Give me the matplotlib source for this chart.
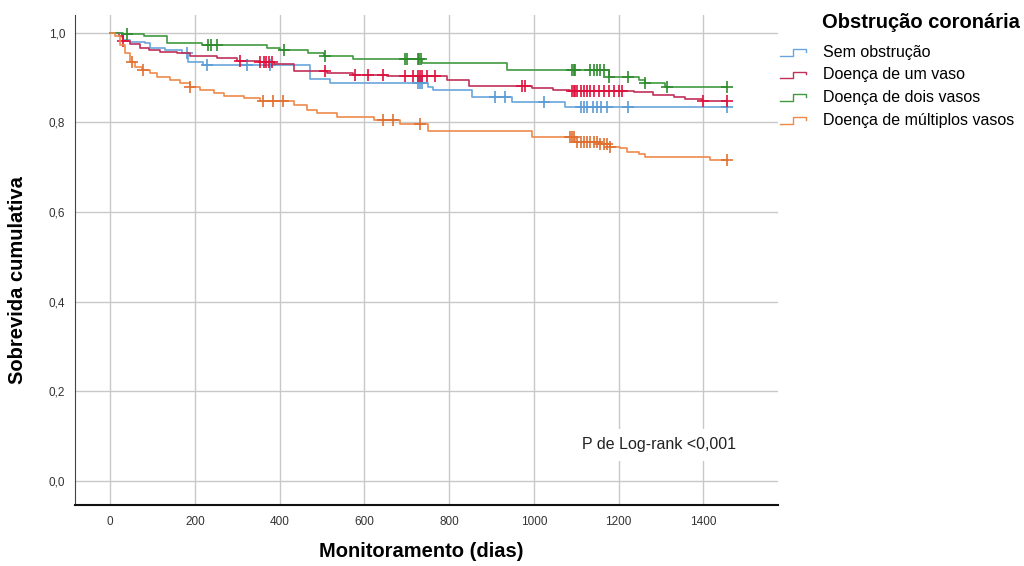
import numpy as np
import matplotlib
matplotlib.use("Agg")
import matplotlib.pyplot as plt
from matplotlib import font_manager
from matplotlib.lines import Line2D
from matplotlib.legend_handler import HandlerBase

# narrow font if present, like the SPSS original
names = {f.name for f in font_manager.fontManager.ttflist}
FONT = "Liberation Sans Narrow" if "Liberation Sans Narrow" in names else "Liberation Sans"
plt.rcParams["font.family"] = [FONT, "DejaVu Sans"]

groups = ["Sem obstrução", "Doença de um vaso", "Doença de dois vasos", "Doença de múltiplos vasos"]
colors = ["#6aa6dc", "#c0305a", "#3f9a3f", "#ee8a4c"]
censor_colors = ["#5b9bd5", "#e0103c", "#2e8b2e", "#e07030"]

# Kaplan-Meier step curves (time in days, survival after the step)
blue_t = [0, 28, 31, 47, 83, 94, 130, 169, 184, 220, 472, 519, 751, 763, 854, 948, 1074, 1455]
blue_s = [1.0, 0.990, 0.984, 0.980, 0.977, 0.966, 0.961, 0.955, 0.936, 0.929, 0.897, 0.888, 0.880, 0.873,
          0.856, 0.845, 0.834, 0.834]
red_t = [0, 20, 31, 47, 71, 91, 118, 157, 189, 252, 299, 354, 386, 433, 512, 574, 653, 795, 846, 995,
         1046, 1085, 1235, 1282, 1330, 1357, 1397, 1455]
red_s = [1.0, 0.992, 0.981, 0.975, 0.966, 0.962, 0.958, 0.955, 0.949, 0.943, 0.938, 0.934, 0.931, 0.916,
         0.911, 0.906, 0.904, 0.895, 0.882, 0.877, 0.873, 0.871, 0.867, 0.862, 0.858, 0.853, 0.849, 0.849]
green_t = [0, 31, 79, 134, 216, 370, 401, 468, 504, 574, 737, 936, 1176, 1247, 1263, 1310, 1455]
green_s = [1.0, 0.997, 0.992, 0.978, 0.973, 0.966, 0.961, 0.955, 0.949, 0.942, 0.932, 0.917, 0.902, 0.895,
           0.888, 0.880, 0.880]
orange_t = [0, 12, 24, 35, 47, 59, 75, 94, 110, 142, 165, 189, 212, 244, 268, 315, 354, 433, 464, 488,
            535, 622, 685, 751, 995, 1098, 1157, 1180, 1204, 1220, 1247, 1263, 1416, 1455]
orange_s = [1.0, 0.992, 0.973, 0.955, 0.936, 0.925, 0.918, 0.910, 0.902, 0.895, 0.888, 0.880, 0.873, 0.865,
            0.859, 0.854, 0.849, 0.839, 0.828, 0.821, 0.813, 0.806, 0.796, 0.781, 0.767, 0.757, 0.752, 0.746,
            0.742, 0.735, 0.730, 0.724, 0.717, 0.717]

# censored observations (days)
blue_c = [181, 228, 323, 378, 727, 732, 736, 909, 932, 1023, 1110, 1118, 1126, 1140, 1150, 1158, 1173,
          1223, 1455]
red_c = [31, 307, 354, 362, 368, 375, 382, 507, 578, 609, 645, 696, 715, 727, 732, 736, 748, 767, 972, 980,
         1090, 1094, 1098, 1102, 1110, 1117, 1125, 1133, 1141, 1153, 1165, 1176, 1188, 1200, 1208, 1400, 1455]
green_c = [39, 231, 239, 251, 410, 508, 696, 700, 727, 729, 733, 1090, 1094, 1098, 1133, 1141, 1149, 1157,
           1165, 1176, 1223, 1263, 1314, 1455]
orange_c = [51, 77, 189, 361, 385, 408, 645, 668, 732, 1086, 1090, 1094, 1102, 1110, 1118, 1125, 1133,
            1141, 1149, 1157, 1165, 1172, 1180, 1455]

curves = [(blue_t, blue_s, blue_c), (red_t, red_s, red_c), (green_t, green_s, green_c),
          (orange_t, orange_s, orange_c)]


class StepHandler(HandlerBase):
    def create_artists(self, legend, orig_handle, xdescent, ydescent, width, height, fontsize, trans):
        x0 = -xdescent
        y0 = -ydescent
        xs = [x0, x0 + 0.5 * width, x0 + 0.5 * width, x0 + width, x0 + width]
        ys = [y0 + 0.1 * height, y0 + 0.1 * height, y0 + 0.7 * height, y0 + 0.7 * height, y0 + 0.45 * height]
        ln = Line2D(xs, ys, color=orig_handle.get_color(), lw=1.0, transform=trans)
        return [ln]


fig = plt.figure(figsize=(10.24, 5.66), dpi=100)
ax = fig.add_axes([0.0732, 0.1078, 0.687, 0.8657])

handles = []
for (t, s, c), col, ccol, lab in zip(curves, colors, censor_colors, groups):
    h, = ax.step(t, s, where="post", color=col, lw=1.2, label=lab)
    handles.append(h)
    idx = np.searchsorted(t, c, side="right") - 1
    ax.plot(c, np.asarray(s)[idx], ls="none", marker="+", ms=8, mew=1.2, color=ccol)

ax.set_xlim(-83, 1577)
ax.set_ylim(-0.054, 1.04)
ax.set_xticks(range(0, 1401, 200))
ax.set_yticks([0, 0.2, 0.4, 0.6, 0.8, 1.0])
ax.set_yticklabels([f"{v:.1f}".replace(".", ",") for v in [0, 0.2, 0.4, 0.6, 0.8, 1.0]])
ax.tick_params(length=0, labelsize=8.5, colors="#333333", pad=8)
ax.tick_params(axis="y", pad=7)
ax.grid(True, color="#c8c8c8", lw=1.0)
ax.set_axisbelow(True)
for side in ("top", "right"):
    ax.spines[side].set_visible(False)
ax.spines["left"].set_color("#444444")
ax.spines["bottom"].set_color("#111111")
ax.spines["bottom"].set_linewidth(1.5)

ax.set_xlabel("Monitoramento (dias)", fontsize=14.5, fontweight="bold", va="center")
ax.set_ylabel("Sobrevida cumulativa", fontsize=14.5, fontweight="bold", va="center")
ax.xaxis.set_label_coords(0.492, -0.094)
ax.yaxis.set_label_coords(-0.081, 0.459)

ax.text(1295, 0.080, "P de Log-rank <0,001", ha="center", va="center", fontsize=11.5, color="#222222",
        bbox=dict(facecolor="white", edgecolor="none", pad=6))

fig.text(0.8027, 0.961, "Obstrução coronária", ha="left", va="center", fontsize=14.5, fontweight="bold")
fig.legend(handles=handles, labels=groups, loc="upper left", bbox_to_anchor=(0.762, 0.921),
           frameon=False, fontsize=11.5, handlelength=1.6, handletextpad=1.1,
           labelspacing=0.48, borderaxespad=0, borderpad=0, handler_map={Line2D: StepHandler()})

fig.savefig("out.png", dpi=100)
